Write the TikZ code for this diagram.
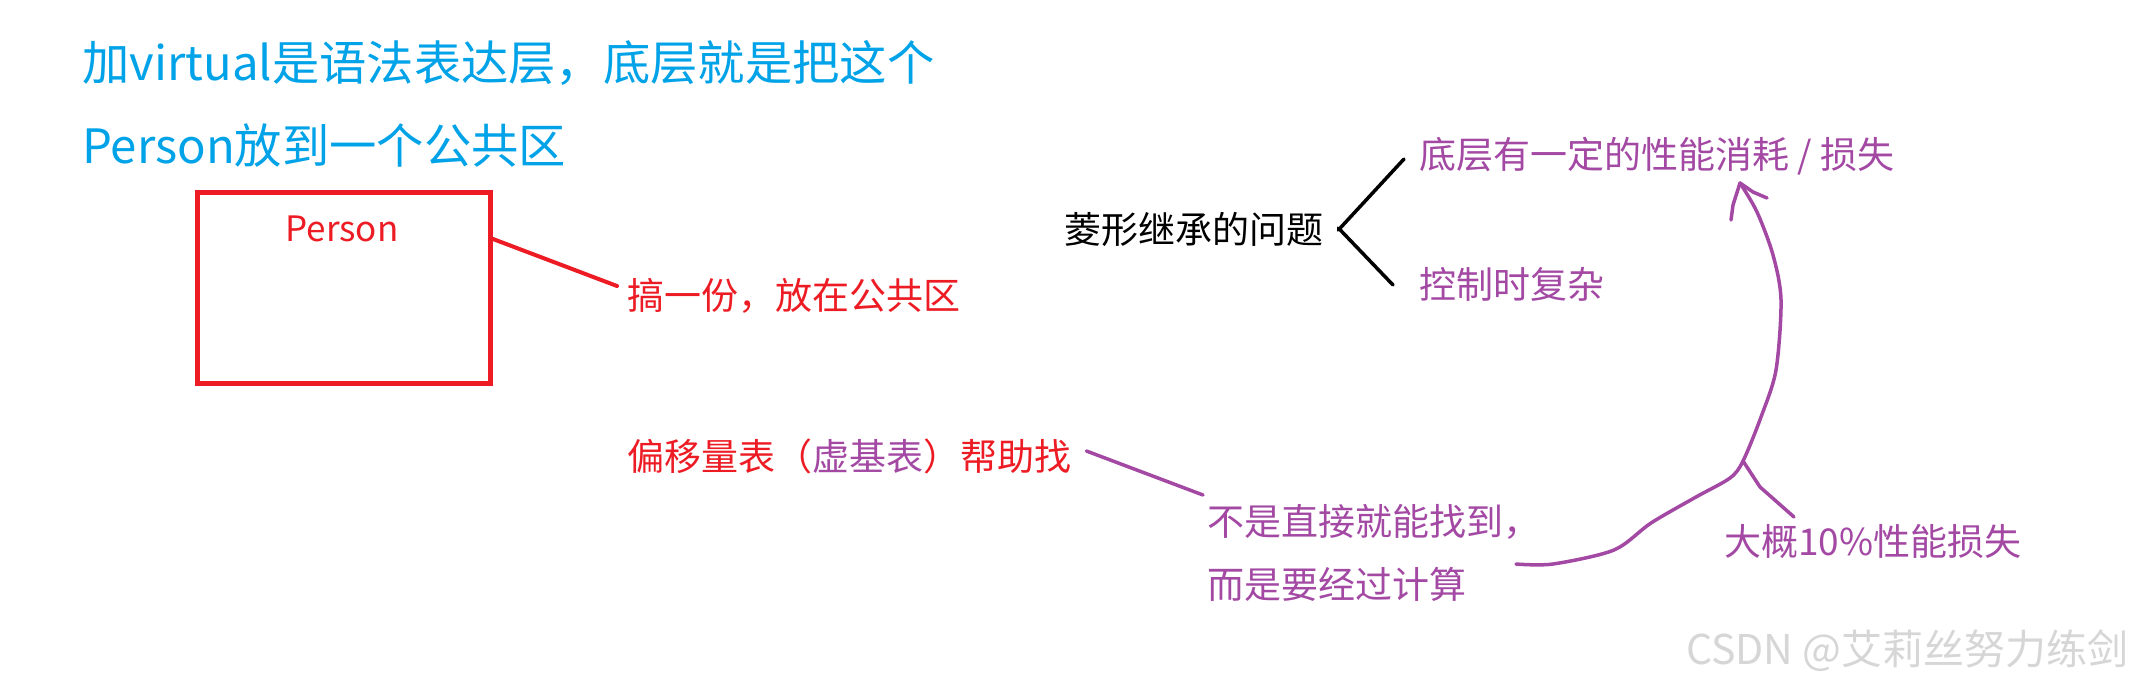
\documentclass[tikz,border=0pt]{standalone}
\usepackage{fontspec}
\setmainfont{Noto Sans CJK SC}
\usetikzlibrary{calc}
\definecolor{tblue}{HTML}{00A2E8}
\definecolor{pred}{HTML}{ED1C24}
\definecolor{ppurple}{HTML}{A349A4}
\tikzset{
  titletext/.style={anchor=west, inner sep=0pt, text=tblue, font=\fontsize{47.3}{56}\selectfont},
  notetext/.style={anchor=west, inner sep=0pt, font=\fontsize{37}{44}\selectfont},
  redtext/.style={notetext, text=pred},
  purpletext/.style={notetext, text=ppurple},
  blacktext/.style={notetext, text=black},
  redline/.style={draw=pred, line width=4pt, line cap=round},
  purpleline/.style={draw=ppurple, line width=3.5pt, line cap=round, line join=round},
  blackline/.style={draw=black, line width=3.5pt, line cap=round},
}
\begin{document}
\begin{tikzpicture}[x=1pt,y=-1pt]
\useasboundingbox[fill=white] (0,0) rectangle (2136,686);

% blue title
\node[titletext] (t1) at (82,63) {加virtual是语法表达层，底层就是把这个};
\node[titletext] (t2) at (82,146) {Person放到一个公共区};

% red box
\node[draw=pred, line width=5pt, minimum width=293pt, minimum height=191pt, inner sep=0pt] (box) at (344,288) {};
\node[anchor=center, inner sep=0pt, text=pred, font=\fontsize{35}{42}\selectfont] (person) at (342,229) {Person};
\node[redtext] (copy) at (627,296) {搞一份，放在公共区};
\draw[redline] ($(box.north east)!0.25!(box.south east)$) -- ([shift={(-10,-10)}]copy.west);

% diamond inheritance
\node[blacktext] (diamond) at (1064,229) {菱形继承的问题};
\coordinate (fork) at ([xshift=15pt]diamond.east);
\node[purpletext] (cost) at (1419,156) {底层有一定的性能消耗 / 损失};
\node[purpletext] (complex) at (1419,284) {控制时复杂};
\draw[blackline] ([yshift=-1]fork) -- ([shift={(-15,3)}]cost.west);
\draw[blackline] ([yshift=1]fork) -- ([shift={(-26,1)}]complex.west);

% offset table
\node[redtext] (offset) at (627,456) {偏移量表（\textcolor{ppurple}{虚基表}）帮助找};
\node[purpletext] (calc1) at (1207,522) {不是直接就能找到，};
\node[purpletext] (calc2) at (1207,584) {而是要经过计算};
\draw[purpleline] ([xshift=15pt,yshift=5pt]offset.east) -- ([shift={(-4,-27)}]calc1.west);

% curved arrow
\coordinate (cs) at (1516,564);
\coordinate (tip) at (1740,183);
\coordinate (fk) at (1743,461);
\node[purpletext] (ten) at (1724,541) {大概10\%性能损失};
\draw[purpleline] plot[smooth, tension=0.5] coordinates {(cs) (1553,564) (1614,550) (1651,523) (1696,497) (1730,478) (fk) (1761,417) (1776,370) (1781,300) (1773,255) (1757,212) (tip)};
\draw[purpleline] (tip) -- (1733,205) -- (1731,220);
\draw[purpleline] (tip) -- (1753,192) -- (1767,198);
\draw[purpleline] (fk) -- (1760,487) -- ([shift={(70,-24)}]ten.west);

% watermark
\node[anchor=west, inner sep=0pt, text=black!16, font=\fontsize{41}{48}\selectfont] (wm) at (1686,651) {CSDN @艾莉丝努力练剑};
\end{tikzpicture}
\end{document}
